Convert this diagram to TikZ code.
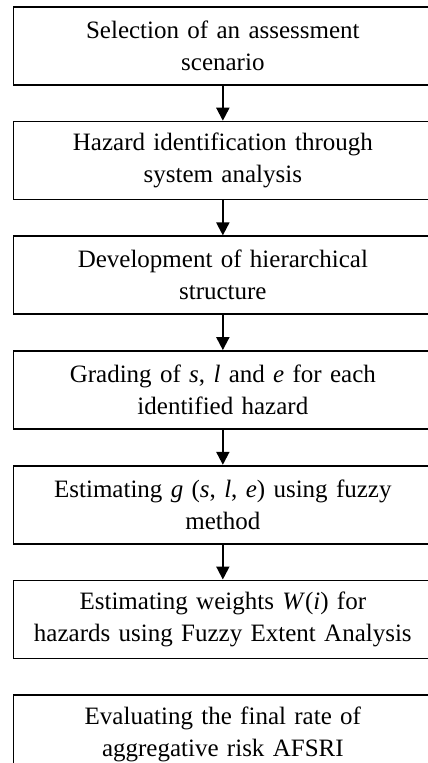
\documentclass[tikz,border=0pt]{standalone}
\usepackage{fontspec}
\setmainfont{Liberation Serif}
\usetikzlibrary{arrows.meta,positioning}

\begin{document}
\begin{tikzpicture}[x=1pt,y=1pt,node distance=35pt,
every node/.style={font=\fontsize{25}{32}\selectfont},
stage/.style={draw,line width=1.7pt,text width=405pt,minimum width=419pt,
minimum height=78pt,align=center,inner sep=0pt},
arr/.style={-{Triangle[length=13pt,width=13pt]},line width=2pt}]
\useasboundingbox (0,0) rectangle (428,-763);
\clip (0,0) rectangle (428,-763);
\node[stage,anchor=north west] (s1) at (12.5,-6) {Selection of an assessment\\scenario};
\node[stage,below=of s1] (s2) {Hazard identification through\\system analysis};
\node[stage,below=of s2] (s3) {Development of hierarchical\\structure};
\node[stage,below=of s3] (s4) {Grading of \textit{s}, \textit{l} and \textit{e} for each\\identified hazard};
\node[stage,below=of s4] (s5) {Estimating \textit{g} (\textit{s}, \textit{l}, \textit{e}) using fuzzy\\method};
\node[stage,below=of s5] (s6) {Estimating weights \textit{W}(\textit{i}) for\\hazards using Fuzzy Extent Analysis};
\node[stage,below=of s6] (s7) {Evaluating the final rate of\\aggregative risk AFSRI};
\draw[arr] (s1)--(s2);\draw[arr] (s2)--(s3);\draw[arr] (s3)--(s4);
\draw[arr] (s4)--(s5);\draw[arr] (s5)--(s6);
\end{tikzpicture}
\end{document}
